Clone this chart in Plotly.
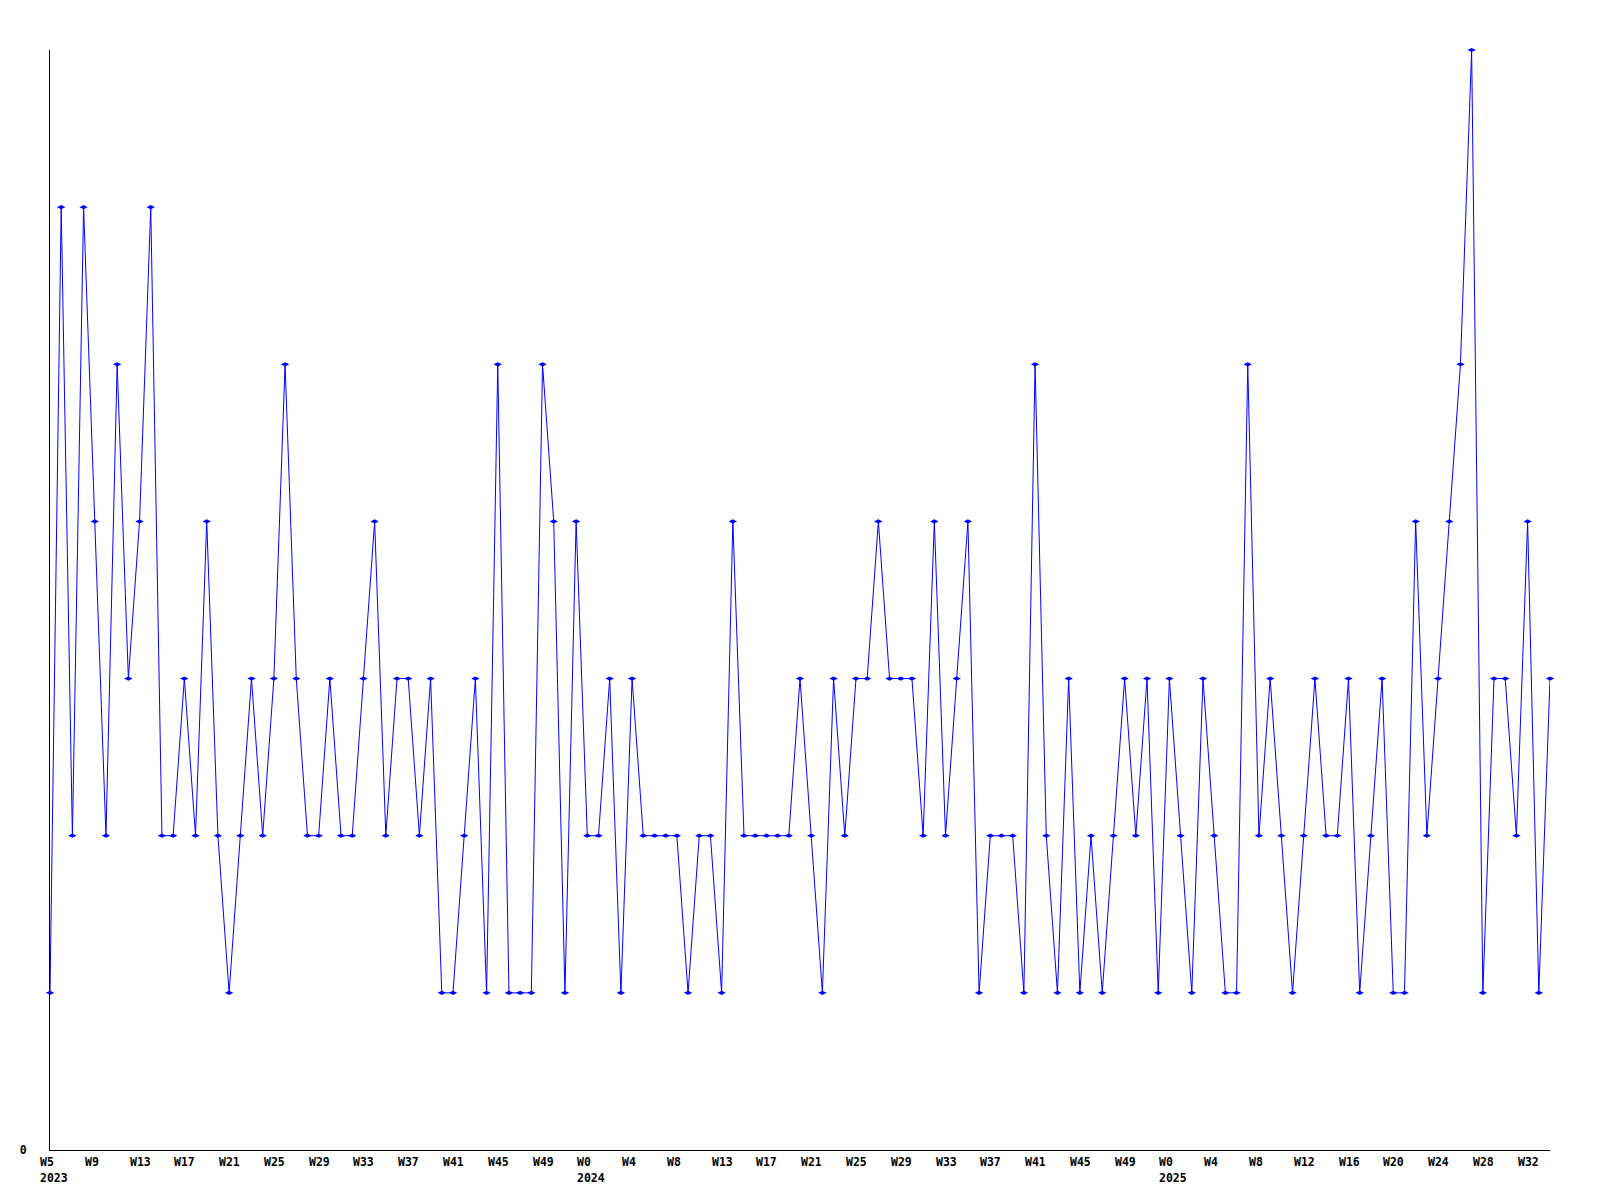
import plotly.graph_objects as go

# Weekly values (2023 W5 .. 2025 W34)
values = [1, 6, 2, 6, 4, 2, 5, 3, 4, 6, 2, 2, 3, 2, 4, 2, 1, 2, 3, 2, 3, 5, 3,
          2, 2, 3, 2, 2, 3, 4, 2, 3, 3, 2, 3, 1, 1, 2, 3, 1, 5, 1, 1, 1, 5,
          4, 1, 4, 2, 2, 3, 1, 3, 2, 2, 2, 2, 1, 2, 2, 1, 4, 2, 2, 2, 2, 2, 3,
          2, 1, 3, 2, 3, 3, 4, 3, 3, 3, 2, 4, 2, 3, 4, 1, 2, 2, 2, 1, 5, 2,
          1, 3, 1, 2, 1, 2, 3, 2, 3, 1, 3, 2, 1, 3, 2, 1, 1, 5, 2, 3, 2, 1,
          2, 3, 2, 2, 3, 1, 2, 3, 1, 1, 4, 2, 3, 4, 5, 7, 1, 3, 3, 2, 4, 1, 3]

# Tick labels, one every 4 weeks
tick_labels = ["W5", "W9", "W13", "W17", "W21", "W25", "W29", "W33", "W37", "W41",
               "W45", "W49", "W0", "W4", "W8", "W13", "W17", "W21", "W25", "W29",
               "W33", "W37", "W41", "W45", "W49", "W0", "W4", "W8", "W12", "W16",
               "W20", "W24", "W28", "W32"]
tick_years = {0: "2023", 12: "2024", 25: "2025"}
tick_step = 4

x = list(range(len(values)))

FONT = dict(family="DejaVu Sans Mono", size=11.5, color="black", weight="bold")

fig = go.Figure()
fig.add_trace(go.Scatter(
    x=x, y=values, mode="lines+markers",
    line=dict(color="rgb(0,0,255)", width=1),
    marker=dict(symbol="diamond-wide", size=6, color="rgb(0,0,255)"),
    cliponaxis=False, showlegend=False,
))

annotations = []
for i, lab in enumerate(tick_labels):
    xi = i * tick_step
    annotations.append(dict(x=xi, y=0, xref="x", yref="paper", text=lab,
                            showarrow=False, xanchor="left", yanchor="middle",
                            xshift=-12, yshift=-12, font=FONT))
    if i in tick_years:
        annotations.append(dict(x=xi, y=0, xref="x", yref="paper", text=tick_years[i],
                                showarrow=False, xanchor="left", yanchor="middle",
                                xshift=-12, yshift=-28, font=FONT))

# The page body has an 8px default margin, so the figure is sized to compensate.
fig.update_layout(
    width=1592, height=1192,
    margin=dict(l=42, r=50, t=42, b=50),
    paper_bgcolor="white", plot_bgcolor="white",
    annotations=annotations,
    xaxis=dict(range=[0, len(values) - 1], showgrid=False, zeroline=False,
               showline=True, linecolor="black", linewidth=1,
               showticklabels=False, ticks=""),
    yaxis=dict(range=[0, 7], showgrid=False, zeroline=False,
               showline=True, linecolor="black", linewidth=1,
               tickvals=[0], ticktext=["0"], ticks="",
               ticklabelstandoff=20, tickfont=FONT),
)

fig.write_html("out.html")
